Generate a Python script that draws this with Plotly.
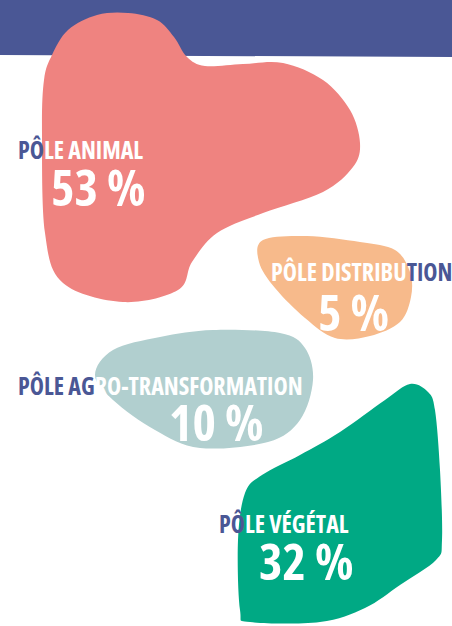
import plotly.graph_objects as go

# ---- data ----
categories = ["PÔLE ANIMAL", "PÔLE DISTRIBUTION", "PÔLE AGRO-TRANSFORMATION", "PÔLE VÉGÉTAL"]
values = [53, 5, 10, 32]

# ---- style / layout (not data) ----
W, H = 452, 626
BAND = "#4A5795"
TEXT_BLUE = "#4A5795"
colors = ["#EF8380", "#F7BA8B", "#B1CFCF", "#00A984"]
FONT = "Open Sans"
STRETCH = "font-stretch:75%"
LABEL_SIZE = 24
VALUE_SIZE = 50
# characters of each label that fall outside the blob (drawn blue): (count, side)
label_split = [(2, "left"), (4, "right"), (7, "left"), (2, "left")]
label_pos = [(17, 149), (270, 271), (17, 385), (218, 523)]
value_pos = [(50, 187), (317, 312), (168, 422), (258, 561)]

blob_outlines = [
    [(128, 13), (157, 20), (174, 37), (187, 57), (205, 66), (243, 64), (283, 63), (323, 80),
     (350, 110), (360, 143), (353, 167), (323, 192), (263, 213), (217, 233), (192, 262),
     (178, 290), (123, 302), (63, 283), (45, 233), (42, 133), (44, 80), (52, 55), (68, 30), (97, 15)],
    [(263, 240), (307, 236), (360, 242), (395, 250), (410, 272), (411, 297), (400, 322),
     (370, 336), (335, 338), (305, 318), (275, 288), (259, 262)],
    [(113, 350), (160, 337), (213, 330), (280, 333), (305, 348), (313, 380), (300, 420),
     (268, 442), (200, 448), (155, 430), (113, 400), (95, 375)],
    [(410, 384), (428, 392), (435, 410), (440, 470), (442, 540), (436, 560), (400, 585),
     (365, 608), (320, 622), (250, 622), (240, 610), (238, 540), (245, 493), (262, 475),
     (300, 455), (340, 432), (385, 400)],
]


def smooth_path(pts):
    n = len(pts)
    d = f"M{pts[0][0]},{pts[0][1]}"
    for i in range(n):
        p0, p1, p2, p3 = pts[i - 1], pts[i], pts[(i + 1) % n], pts[(i + 2) % n]
        c1 = (p1[0] + (p2[0] - p0[0]) / 6, p1[1] + (p2[1] - p0[1]) / 6)
        c2 = (p2[0] - (p3[0] - p1[0]) / 6, p2[1] - (p3[1] - p1[1]) / 6)
        d += f" C{c1[0]:.1f},{c1[1]:.1f} {c2[0]:.1f},{c2[1]:.1f} {p2[0]},{p2[1]}"
    return d + " Z"


def span(t, color=None):
    st = STRETCH + (f";color:{color}" if color else "")
    return f"<span style='{st}'>{t}</span>"


fig = go.Figure()
fig.add_trace(go.Scatter(x=[0, W], y=[0, H], mode="markers", marker=dict(opacity=0),
                         hoverinfo="skip", showlegend=False))

shapes = [dict(type="path", path=f"M0,0 L{W},0 L{W},57 L0,55 Z", fillcolor=BAND,
               line=dict(width=0), xref="x", yref="y", layer="below")]
for pts, c in zip(blob_outlines, colors):
    shapes.append(dict(type="path", path=smooth_path(pts), fillcolor=c, line=dict(width=0),
                       xref="x", yref="y", layer="below"))

annotations = []
for cat, val, (n, side), (lx, ly), (vx, vy) in zip(categories, values, label_split, label_pos, value_pos):
    if side == "left":
        txt = span(cat[:n], TEXT_BLUE) + span(cat[n:])
    else:
        txt = span(cat[:-n]) + span(cat[-n:], TEXT_BLUE)
    annotations.append(dict(x=lx, y=ly, xref="x", yref="y", text=txt, showarrow=False,
                            xanchor="left", yanchor="middle", borderpad=0,
                            font=dict(family=FONT, size=LABEL_SIZE, color="white", weight=700)))
    annotations.append(dict(x=vx, y=vy, xref="x", yref="y", text=span(f"{val} %"), showarrow=False,
                            xanchor="left", yanchor="middle", borderpad=0,
                            font=dict(family=FONT, size=VALUE_SIZE, color="white", weight=700)))

fig.update_layout(
    width=W, height=H, autosize=False,
    margin=dict(l=0, r=0, t=0, b=0),
    paper_bgcolor="white", plot_bgcolor="white",
    xaxis=dict(range=[0, W], visible=False, fixedrange=True),
    yaxis=dict(range=[H, 0], visible=False, fixedrange=True),
    shapes=shapes, annotations=annotations, showlegend=False,
)
fig.write_html("out.html", config={"displayModeBar": False},
               post_script="document.body.style.margin='0';document.body.style.overflow='hidden';")
